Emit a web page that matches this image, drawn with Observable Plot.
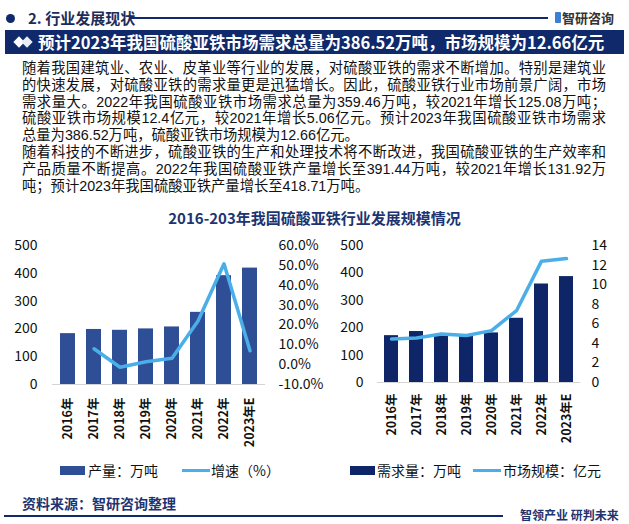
<!DOCTYPE html>
<html>
<head>
<meta charset="utf-8">
<script src="https://cdn.jsdelivr.net/npm/d3@7"></script>
<script src="https://cdn.jsdelivr.net/npm/@observablehq/plot@0.6"></script>
<style>
  html, body { margin:0; padding:0; background:#fff; }
  body { width:629px; height:524px; position:relative; overflow:hidden;
         font-family:"Noto Sans CJK SC","Noto Sans",sans-serif; color:#111; }
  #para div { position:absolute; left:22px; width:584px; height:16px; font-family:"Liberation Sans","Noto Sans CJK SC",sans-serif; font-size:14.3px; line-height:16px; color:#111; white-space:nowrap; }
  #para div.j { text-align:justify; text-align-last:justify; white-space:normal; }
  .chart svg { overflow:visible; }
  svg g[aria-label^="x-axis"] text { font-weight:bold; font-size:12.5px; }
  #hline { position:absolute; left:130px; top:17px; width:418px; height:0; border-top:2px solid #10296a; z-index:5; }
</style>
</head>
<body>
<div id="hline"></div>
<script>
// ---------- data ----------
const years = ["2016年","2017年","2018年","2019年","2020年","2021年","2022年","2023年E"];
const output = [183, 198, 195, 200, 207, 259.52, 391.44, 418.71];          // 产量：万吨
const growth = [null, 8.0, -1.3, 1.5, 3.2, 22.0, 50.8, 7.0];               // 增速（%）
const demand = [171, 186, 175, 171, 181, 234.38, 359.46, 386.52];          // 需求量：万吨
const marketSize = [4.45, 4.55, 4.95, 4.8, 5.3, 7.34, 12.4, 12.66];        // 市场规模：亿元
const leftTicks = [0, 100, 200, 300, 400, 500];
const pctTicks = [-10, 0, 10, 20, 30, 40, 50, 60];
const sizeTicks = [0, 2, 4, 6, 8, 10, 12, 14];

const headerText = "2. 行业发展现状";
const bannerText = "预计2023年我国硫酸亚铁市场需求总量为386.52万吨，市场规模为12.66亿元";
const paraLines = [
  "随着我国建筑业、农业、皮革业等行业的发展，对硫酸亚铁的需求不断增加。特别是建筑业",
  "的快速发展，对硫酸亚铁的需求量更是迅猛增长。因此，硫酸亚铁行业市场前景广阔，市场",
  "需求量大。2022年我国硫酸亚铁市场需求总量为359.46万吨，较2021年增长125.08万吨；",
  "硫酸亚铁市场规模12.4亿元，较2021年增长5.06亿元。预计2023年我国硫酸亚铁市场需求",
  "总量为386.52万吨，硫酸亚铁市场规模为12.66亿元。",
  "随着科技的不断进步，硫酸亚铁的生产和处理技术将不断改进，我国硫酸亚铁的生产效率和",
  "产品质量不断提高。2022年我国硫酸亚铁产量增长至391.44万吨，较2021年增长131.92万",
  "吨；预计2023年我国硫酸亚铁产量增长至418.71万吨。"
];
const justified = [true, true, true, true, false, true, true, false];
const chartTitle = "2016-203年我国硫酸亚铁行业发展规模情况";

const NAVY = "#10296a";
const BAR1 = "#2e4e96";
const BAR2 = "#0e2668";
const LINE = "#4aaee8";
const FONT = '"Noto Sans CJK SC","Noto Sans",sans-serif';

// ---------- header ----------
function el(tag, css, text, parent = document.body) {
  const e = document.createElement(tag);
  e.style.cssText = css;
  if (text != null) e.textContent = text;
  parent.appendChild(e);
  return e;
}
el("div", `position:absolute;left:6px;top:14px;width:9px;height:9px;border-radius:50%;background:${NAVY};`);
el("div", `position:absolute;left:28px;top:6px;font-size:15px;font-weight:bold;color:#1c2c5a;line-height:24px;white-space:nowrap;`, headerText);
el("div", `position:absolute;left:555px;top:12px;width:6px;height:11px;background:#3c7fd6;border-radius:1px;`);
el("div", `position:absolute;left:562px;top:6px;font-size:13px;font-weight:bold;color:#333;line-height:24px;white-space:nowrap;`, "智研咨询");
const banner = el("div", `position:absolute;left:5px;top:30px;width:619px;height:24px;background:${NAVY};`);
el("div", `position:absolute;left:10px;top:8px;width:8px;height:8px;background:#fff;transform:rotate(45deg);`, null, banner);
el("div", `position:absolute;left:18px;top:8px;width:8px;height:8px;background:#e8ecf5;transform:rotate(45deg);`, null, banner);
el("div", `position:absolute;left:33px;top:0;font-size:16.5px;font-weight:bold;color:#fff;line-height:24px;white-space:nowrap;`, bannerText, banner);

// ---------- paragraph ----------
const para = el("div", "position:absolute;left:0;top:0;");
para.id = "para";
paraLines.forEach((t, i) => {
  const d = el("div", `top:${60 + i * 16.8}px;`, t, para);
  if (justified[i]) d.className = "j";
});

// ---------- chart title ----------
el("div", `position:absolute;left:0;width:629px;top:207px;text-align:center;font-size:15px;font-weight:bold;color:#1d3470;line-height:22px;`, chartTitle);

// ---------- charts ----------
const leftData = years.map((y, i) => ({year: y, output: output[i], growth: growth[i]}));
const rightData = years.map((y, i) => ({year: y, demand: demand[i], size: marketSize[i]}));

function xScale(padIn) {
  return {type: "band", domain: years, paddingInner: padIn, paddingOuter: padIn / 2};
}
const baseStyle = {background: "none", fontFamily: FONT, fontSize: "14px", color: "#111", overflow: "visible"};

function dualChart({left, width, marginLeft, marginRight, marginBottom, padIn, data, barKey, barColor, lineKey, y2Domain, y2Ticks, y2Format, lpad, rpad, xpad}) {
  const H = 220, top = 230;
  const common = {width, height: H, marginLeft, marginRight, marginTop: 15, marginBottom};
  const barPlot = Plot.plot({
    ...common,
    style: baseStyle,
    x: {...xScale(padIn), tickRotate: -90, tickSize: 0, tickPadding: xpad, label: null},
    y: {domain: [0, 500], ticks: leftTicks, tickSize: 0, tickPadding: lpad, label: null},
    marks: [
      Plot.ruleY([0], {stroke: "#d4d4d4", strokeWidth: 1}),
      Plot.barY(data, {x: "year", y: barKey, fill: barColor})
    ]
  });
  const linePlot = Plot.plot({
    ...common,
    style: baseStyle,
    x: {...xScale(padIn), axis: null},
    y: {axis: "right", domain: y2Domain, ticks: y2Ticks, tickFormat: y2Format, tickSize: 0, tickPadding: rpad, label: null},
    marks: [
      Plot.line(data, {x: "year", y: lineKey, stroke: LINE, strokeWidth: 3.5, strokeLinejoin: "round", strokeLinecap: "round"})
    ]
  });
  const wrap = el("div", `position:absolute;left:${left}px;top:${top}px;width:${width}px;height:${H}px;`);
  wrap.className = "chart";
  barPlot.style.position = "absolute"; barPlot.style.left = "0"; barPlot.style.top = "0";
  linePlot.style.position = "absolute"; linePlot.style.left = "0"; linePlot.style.top = "0";
  wrap.appendChild(barPlot);
  wrap.appendChild(linePlot);
}

dualChart({
  left: 0, width: 320, marginLeft: 52, marginRight: 55, marginBottom: 66, padIn: 0.436,
  data: leftData, barKey: "output", barColor: BAR1, lineKey: "growth",
  y2Domain: [-10, 60], y2Ticks: pctTicks, y2Format: d => d.toFixed(1) + "%",
  lpad: 15, rpad: 13, xpad: 13
});
dualChart({
  left: 320, width: 309, marginLeft: 57, marginRight: 49, marginBottom: 68, padIn: 0.45,
  data: rightData, barKey: "demand", barColor: BAR2, lineKey: "size",
  y2Domain: [0, 14], y2Ticks: sizeTicks, y2Format: d => String(d),
  lpad: 14, rpad: 11, xpad: 11
});

// ---------- legends ----------
function legendBox(x, color) { el("div", `position:absolute;left:${x}px;top:466px;width:25px;height:9px;background:${color};`); }
function legendLine(x) { el("div", `position:absolute;left:${x}px;top:469px;width:28px;height:3px;background:${LINE};`); }
function legendText(x, t) { el("div", `position:absolute;left:${x}px;top:459px;font-size:14px;line-height:22px;color:#111;white-space:nowrap;`, t); }
legendBox(60, BAR1); legendText(88, "产量：万吨");
legendLine(182); legendText(211, "增速（%）");
legendBox(350, BAR2); legendText(377, "需求量：万吨");
legendLine(473); legendText(503, "市场规模：亿元");

// ---------- footer ----------
el("div", `position:absolute;left:22px;top:492px;font-size:14px;font-weight:bold;color:#1d3470;line-height:22px;white-space:nowrap;`, "资料来源：智研咨询整理");
el("div", `position:absolute;left:4px;top:515px;width:499px;height:1.5px;background:${NAVY};`);
el("div", `position:absolute;left:520px;top:505px;font-size:12px;font-weight:bold;color:#1d3470;line-height:20px;white-space:nowrap;`, "智领产业 研判未来");
</script>
</body>
</html>
